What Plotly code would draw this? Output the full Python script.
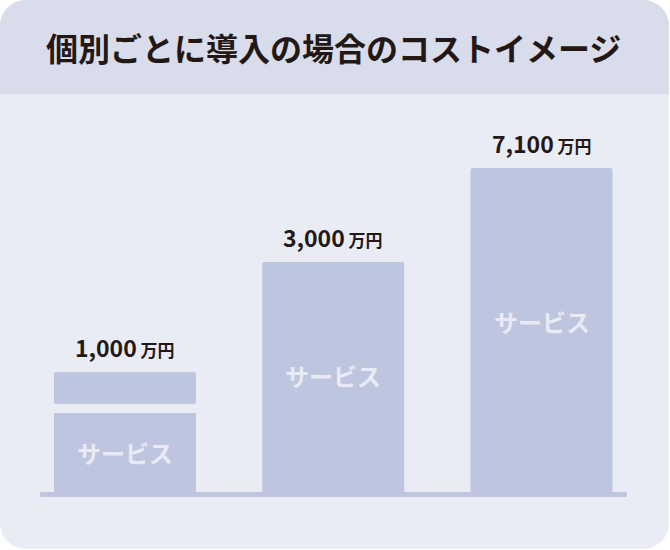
import plotly.graph_objects as go

# ---- data ----
bar_index = [0, 1, 2]
cost_labels = ["1,000", "3,000", "7,100"]
unit_label = "万円"
service_label = "サービス"
# illustrative bar heights (the picture is not to scale)
service_heights = [79, 230, 324]
extra_gap = [9, 0, 0]
extra_heights = [32, 0, 0]
title_text = "個別ごとに導入の場合のコストイメージ"

# ---- style ----
W, H = 670, 550
ML, MR, MT, MB = 40, 43, 100, 58
PLOT_W = W - ML - MR
PLOT_H = H - MT - MB
BASE_PX = MT + PLOT_H  # pixel row of y=0

BAR_COLOR = "#BEC6DF"
HEAD_COLOR = "#D9DCEA"
BODY_COLOR = "#EAECF5"
TEXT_COLOR = "#231815"
LABEL_COLOR = "#E8EBF5"
FONT = "Noto Sans CJK JP"


def px_x(p):
    return (p - ML) / PLOT_W


def px_y(p):
    return (BASE_PX - p) / PLOT_H


def rounded_path(x0, y0, x1, y1, r, top=True, bottom=True):
    k = 0.5523 * r
    P = lambda x, y: f"{px_x(x):.5f},{px_y(y):.5f}"
    s = []
    if top:
        s.append(f"M {P(x0, y0 + r)}")
        s.append(f"C {P(x0, y0 + r - k)} {P(x0 + r - k, y0)} {P(x0 + r, y0)}")
        s.append(f"L {P(x1 - r, y0)}")
        s.append(f"C {P(x1 - r + k, y0)} {P(x1, y0 + r - k)} {P(x1, y0 + r)}")
    else:
        s.append(f"M {P(x0, y0)}")
        s.append(f"L {P(x1, y0)}")
    if bottom:
        s.append(f"L {P(x1, y1 - r)}")
        s.append(f"C {P(x1, y1 - r + k)} {P(x1 - r + k, y1)} {P(x1 - r, y1)}")
        s.append(f"L {P(x0 + r, y1)}")
        s.append(f"C {P(x0 + r - k, y1)} {P(x0, y1 - r + k)} {P(x0, y1 - r)}")
    else:
        s.append(f"L {P(x1, y1)}")
        s.append(f"L {P(x0, y1)}")
    s.append("Z")
    return " ".join(s)


fig = go.Figure()

bar_width = 0.682

fig.add_trace(go.Bar(
    x=bar_index, y=service_heights, width=bar_width,
    marker=dict(color=BAR_COLOR, line=dict(width=0)),
    hoverinfo="skip",
))

extra_base = [s + g for s, g in zip(service_heights, extra_gap)]
fig.add_trace(go.Bar(
    x=[i for i, h in zip(bar_index, extra_heights) if h > 0],
    y=[h for h in extra_heights if h > 0],
    base=[b for b, h in zip(extra_base, extra_heights) if h > 0],
    width=bar_width,
    marker=dict(color=BAR_COLOR, line=dict(width=0)),
    hoverinfo="skip",
))

# service labels inside the bars (bar 3's label sits a bit above centre)
label_shift = [0, 2, 9]
for i, s, sh in zip(bar_index, service_heights, label_shift):
    fig.add_annotation(
        x=i, y=s / 2, xref="x", yref="y", text=service_label,
        showarrow=False, yanchor="middle", yshift=sh,
        font=dict(family=FONT, size=24, color=LABEL_COLOR, weight="bold"),
    )

# value labels above bars
for i, lab, s, g, e in zip(bar_index, cost_labels, service_heights, extra_gap, extra_heights):
    top = s + g + e
    fig.add_annotation(
        x=i, y=top, xref="x", yref="y",
        text=f"{lab}<span style='font-size:17px'> {unit_label}</span>",
        showarrow=False, yanchor="bottom", yshift=6,
        font=dict(family=FONT, size=23, color=TEXT_COLOR, weight="bold"),
    )

# title
fig.add_annotation(
    x=px_x(334), y=px_y(47), xref="paper", yref="paper",
    text=title_text, showarrow=False, xanchor="center", yanchor="middle",
    font=dict(family=FONT, size=32, color=TEXT_COLOR, weight="bold"),
)

shapes = [
    dict(type="path", xref="paper", yref="paper", layer="below",
         path=rounded_path(0, 0, 669, 549, 26), fillcolor=BODY_COLOR, line=dict(width=0)),
    dict(type="path", xref="paper", yref="paper", layer="below",
         path=rounded_path(0, 0, 669, 94, 26, top=True, bottom=False), fillcolor=HEAD_COLOR, line=dict(width=0)),
    dict(type="path", xref="paper", yref="paper", layer="below",
         path=rounded_path(40, 492, 627, 497, 1.5), fillcolor=BAR_COLOR, line=dict(width=0)),
]

fig.update_layout(
    width=W, height=H,
    margin=dict(l=ML, r=MR, t=MT, b=MB),
    paper_bgcolor="white", plot_bgcolor="rgba(0,0,0,0)",
    barmode="overlay", barcornerradius=2,
    showlegend=False,
    shapes=shapes,
    xaxis=dict(range=[-85 / 208.25, 2 + (PLOT_W - 501.5) / 208.25], visible=False, fixedrange=True),
    yaxis=dict(range=[0, PLOT_H], visible=False, fixedrange=True),
)

fig.write_html("out.html", config={"displayModeBar": False})
